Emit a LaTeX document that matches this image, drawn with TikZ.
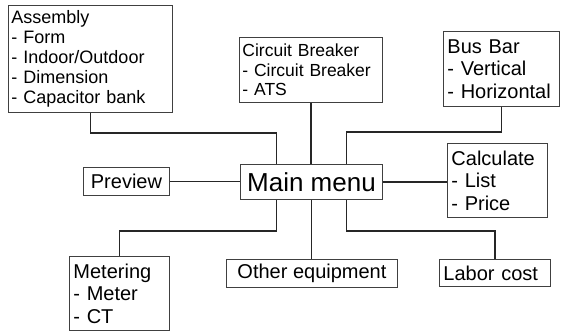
\documentclass[tikz,border=0pt]{standalone}
\usepackage{fontspec}
\setmainfont{Liberation Sans}
\usetikzlibrary{positioning,calc}
\tikzset{
  menu/box/.style={draw=black!75, line width=0.9pt, anchor=north west, align=left, inner xsep=4pt, inner ysep=0pt, font=\fontsize{20}{22.5}\selectfont},
  menu/small/.style={menu/box, inner xsep=3pt, font=\fontsize{17.5}{19.7}\selectfont},
  menu/single/.style={menu/box, align=center},
  menu/main/.style={menu/single, font=\fontsize{26}{30}\selectfont},
  menu/line/.style={line width=1.4pt, black!85}
}

\begin{document}
\begin{tikzpicture}[x=1pt, y=-1pt]
  \useasboundingbox (0,0) rectangle (561,331);
  \node[menu/main, minimum width=142pt, minimum height=35pt] (main) at (240,164) {Main menu};
  \node[menu/small, font=\fontsize{18}{20}\selectfont, text width=158pt, minimum height=107pt] (asm) at (8,5) {Assembly\\- Form\\- Indoor/Outdoor\\- Dimension\\- Capacitor bank};
  \node[menu/small, text width=137pt, minimum height=65pt] (cb) at (239,37) {Circuit Breaker\\- Circuit Breaker\\- ATS};
  \node[menu/box, text width=108pt, minimum height=75pt] (bus) at (443,31) {Bus Bar\\- Vertical\\- Horizontal};
  \node[menu/box, text width=92pt, minimum height=74pt] (calc) at (447,143) {Calculate\\- List\\- Price};
  \node[menu/single, minimum width=86pt, minimum height=28pt] (prev) at (83,167) {Preview};
  \node[menu/box, text width=92pt, minimum height=74pt] (meter) at (69,256) {Metering\\- Meter\\- CT};
  \node[menu/single, minimum width=171pt, minimum height=28pt] (other) at (226,259) {Other equipment};
  \node[menu/box, text width=103pt, minimum height=27pt] (labor) at (439,259) {Labor cost};

  \draw[menu/line] (asm.south) -- ++(0,20) -| ($(main.north)+(-35,0)$);
  \draw[menu/line] (cb.south) -- (cb.south |- main.north);
  \draw[menu/line] (bus.south) -- ++(0,25) -| ($(main.north)+(35,0)$);
  \draw[menu/line] (prev.east) -- (prev.east -| main.west);
  \draw[menu/line] (main.east) -- (main.east -| calc.west);
  \draw[menu/line] ($(main.south)+(-35,0)$) -- ++(0,31) -| (meter.north);
  \draw[menu/line] (main.south) -- (main.south |- other.north);
  \draw[menu/line] ($(main.south)+(35,0)$) -- ++(0,31) -| (labor.north);
\end{tikzpicture}
\end{document}
